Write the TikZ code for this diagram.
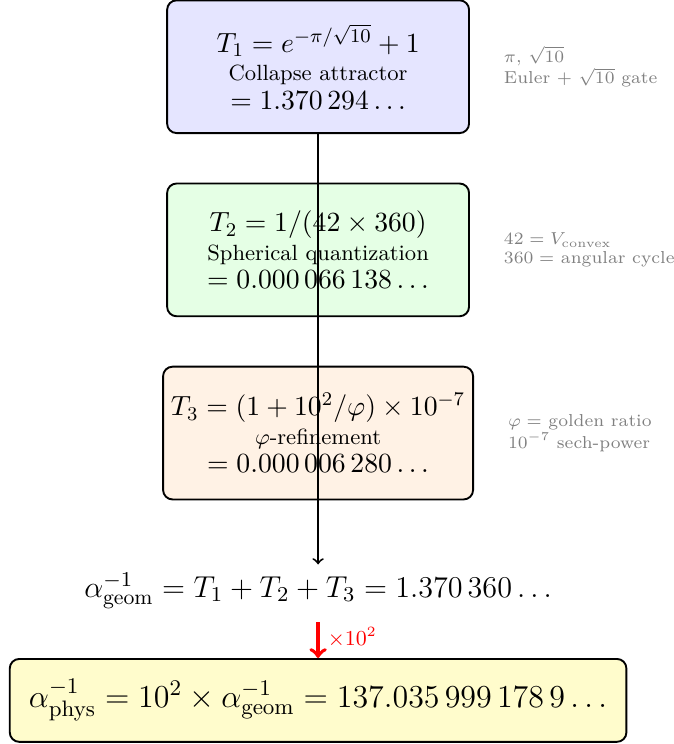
\RequirePackage{fix-cm}
\documentclass[tikz,border=0pt]{standalone}
\usepackage{amsmath,amssymb}
\usepackage{xcolor}
\usepackage{tikz}
\usetikzlibrary{positioning, shapes, arrows, calc}

\newcommand{\formsize}{\fontsize{11.7}{15}\selectfont}
\newcommand{\labsize}{\fontsize{9.3}{11}\selectfont}

\begin{document}
\begin{tikzpicture}[
    node distance=0.72cm,
    term/.style={rectangle, draw, thick, rounded corners, minimum width=4.48cm, minimum height=1.97cm, align=center},
    note/.style={font=\fontsize{7.3}{8}\selectfont, text=gray, align=left}
]
    \useasboundingbox (-4.72,0.99) rectangle (5.28,-10.05);

    % Terms
    \node[term, fill=blue!10] (t1) {{\formsize $T_1 = e^{-\pi/\sqrt{10}} + 1$}\\ {\labsize Collapse attractor}\\ {\formsize $= 1.370\,294\ldots$}};
    \node[term, fill=green!10, below=of t1] (t2) {{\formsize $T_2 = 1/(42 \times 360)$}\\ {\labsize Spherical quantization}\\ {\formsize $= 0.000\,066\,138\ldots$}};
    \node[term, fill=orange!10, below=of t2] (t3) {{\formsize $T_3 = (1 + 10^2/\varphi) \times 10^{-7}$}\\ {\labsize $\varphi$-refinement}\\ {\formsize $= 0.000\,006\,280\ldots$}};

    % Notes
    \node[note, right=0.38cm of t1] (n1) {$\pi$, $\sqrt{10}$\\ Euler + $\sqrt{10}$ gate};
    \node[note, right=0.38cm of t2] (n2) {$42 = V_{\text{convex}}$\\ $360 =$ angular cycle};
    \node[note, right=0.38cm of t3] (n3) {$\varphi =$ golden ratio\\ $10^{-7}$ sech-power};

    % Sum
    \node[below=0.95cm of t3, font=\fontsize{12.75}{15}\selectfont] (geom) {$\alpha_{\text{geom}}^{-1} = T_1 + T_2 + T_3 = 1.370\,360\ldots$};
    \node[rectangle, draw, thick, rounded corners, fill=yellow!20, below=0.6cm of geom, minimum width=9.15cm, minimum height=1.23cm, font=\fontsize{13.5}{16}\selectfont] (phys) {$\alpha_{\text{phys}}^{-1} = 10^2 \times \alpha_{\text{geom}}^{-1} = 137.035\,999\,178\,9\ldots$};

    % Arrows
    \draw[->, thick] (t1.south) -- (geom.north);
    \draw[->, red, ultra thick, shorten <=2pt] (geom.south) -- node[right, font=\small] {$\times 10^2$} (phys.north);
\end{tikzpicture}
\end{document}
